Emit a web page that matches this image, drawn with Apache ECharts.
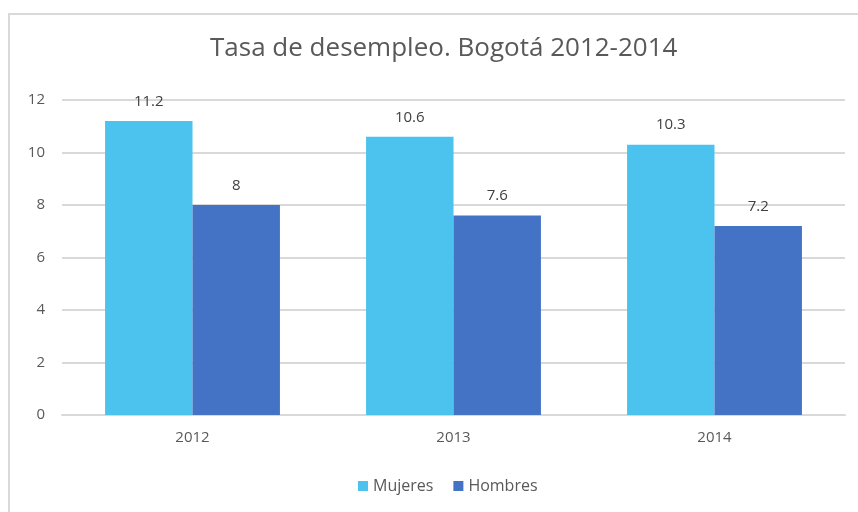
<!DOCTYPE html>
<html><head><meta charset="utf-8">
<script src="https://cdn.jsdelivr.net/npm/echarts@6/dist/echarts.min.js"></script>
<style>html,body{margin:0;padding:0;background:#fff}#c{width:858px;height:512px}</style>
</head><body><div id="c"></div>
<script>
const categories = ['2012', '2013', '2014'];
const mujeres = [11.2, 10.6, 10.3];
const hombres = [8, 7.6, 7.2];
const yTicks = { min: 0, max: 12, interval: 2 };

const chart = echarts.init(document.getElementById('c'), null, { renderer: 'canvas' });
const font = '"Open Sans", "Noto Sans", sans-serif';
chart.setOption({
  animation: false,
  backgroundColor: '#fff',
  graphic: [{
    type: 'rect', shape: { x: 9, y: 14, width: 1000, height: 1000 },
    style: { fill: 'none', stroke: '#d9d9d9', lineWidth: 2 }, silent: true, z: -1
  }],
  title: {
    text: 'Tasa de desempleo. Bogotá 2012-2014', left: 205, top: 31,
    textStyle: { fontFamily: font, fontSize: 26, fontWeight: 'normal', color: '#595959' }
  },
  legend: {
    bottom: 13, left: 353, itemWidth: 10, itemHeight: 10, itemGap: 20,
    icon: 'rect',
    textStyle: { fontFamily: font, fontSize: 16, color: '#595959' },
    data: ['Mujeres', 'Hombres']
  },
  grid: { left: 62, right: 13, top: 100, bottom: 97, containLabel: false },
  xAxis: {
    type: 'category', data: categories,
    axisLine: { lineStyle: { color: '#d9d9d9', width: 2 } },
    axisTick: { show: false },
    axisLabel: { fontFamily: font, fontSize: 15, color: '#595959', margin: 15 }
  },
  yAxis: {
    type: 'value', min: yTicks.min, max: yTicks.max, interval: yTicks.interval,
    axisLine: { show: false }, axisTick: { show: false },
    splitLine: { lineStyle: { color: '#d9d9d9', width: 2 } },
    axisLabel: { fontFamily: font, fontSize: 15, color: '#595959', margin: 17 }
  },
  series: [
    { name: 'Mujeres', type: 'bar', data: mujeres, barGap: '0%', barCategoryGap: '33%',
      itemStyle: { color: '#4BC3EE' },
      label: { show: true, position: 'top', distance: 12, fontFamily: font, fontSize: 15, color: '#404040' } },
    { name: 'Hombres', type: 'bar', data: hombres,
      itemStyle: { color: '#4472C4' },
      label: { show: true, position: 'top', distance: 12, fontFamily: font, fontSize: 15, color: '#404040' } }
  ]
});
</script></body></html>
